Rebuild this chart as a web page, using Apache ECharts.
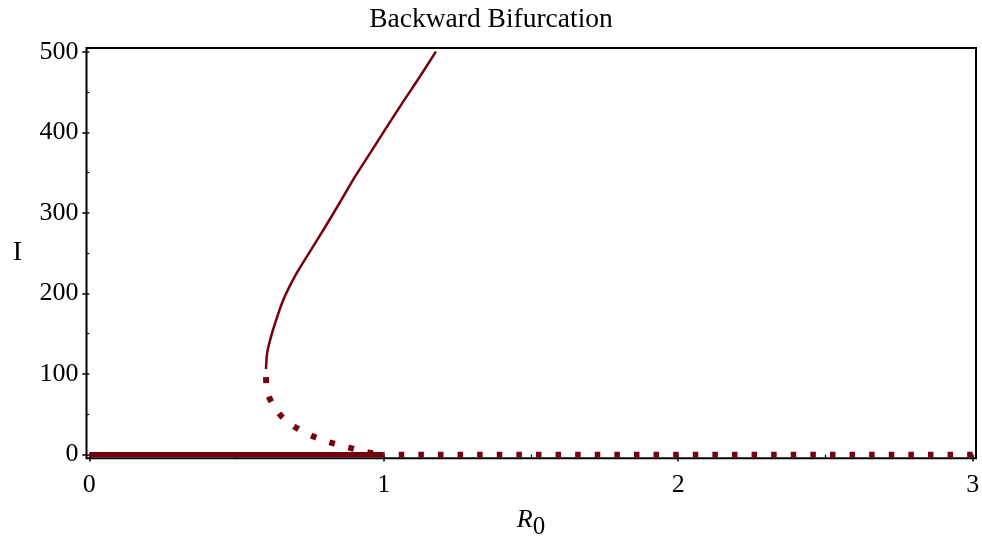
<!DOCTYPE html>
<html>
<head>
<meta charset="utf-8">
<script src="https://cdn.jsdelivr.net/npm/echarts@6/dist/echarts.min.js"></script>
<style>
html,body{margin:0;padding:0;background:#fff;}
#chart{width:982px;height:539px;}
</style>
</head>
<body>
<div id="chart"></div>
<script>
// Data (R0, I)
const stableUpper = [
  [0.600, 106], [0.604, 126], [0.614, 142], [0.631, 163], [0.659, 192],
  [0.698, 221], [0.746, 250], [0.802, 283], [0.856, 316], [0.906, 347],
  [0.957, 376], [1.011, 407], [1.066, 438], [1.119, 467], [1.177, 500]
];
const unstableLower = [
  [0.600, 96], [0.603, 82], [0.614, 68.5], [0.651, 48], [0.704, 33],
  [0.764, 22], [0.826, 14], [0.891, 7.7], [0.951, 2.2], [1.0, 0]
];
const stableDFE = [[0, 0], [1, 0]];
const unstableDFE = [[1, 0], [3, 0]];
const xTicks = [0, 1, 2, 3];
const yTicks = [0, 100, 200, 300, 400, 500];

const RED = '#78000E';
const FONT = "'Liberation Serif', 'Times New Roman', serif";

const chart = echarts.init(document.getElementById('chart'), null, {renderer: 'canvas'});
const option = {
  animation: false,
  backgroundColor: '#fff',
  title: {
    text: 'Backward Bifurcation',
    left: 'center',
    top: 6,
    padding: 0,
    textStyle: {fontFamily: FONT, fontSize: 27.5, fontWeight: 'normal', color: '#000'}
  },
  grid: [
    {left: 86.5, right: 6, top: 48, bottom: 80.7, show: true, borderColor: '#000', borderWidth: 2,
     backgroundColor: 'transparent', containLabel: false, outerBoundsMode: 'none'},
    {left: 89.3, right: 9.3, top: 51.7, bottom: 84.5, containLabel: false, outerBoundsMode: 'none'}
  ],
  xAxis: [
    {gridIndex: 0, type: 'value', show: false, min: 0, max: 1},
    {
      gridIndex: 1, type: 'value', min: xTicks[0], max: xTicks[xTicks.length - 1], interval: 1,
      offset: 3.8,
      axisLine: {show: false},
      axisTick: {show: true, length: 7, lineStyle: {color: '#000', width: 1.5}},
      minorTick: {show: true, splitNumber: 2, length: 3.5, lineStyle: {color: '#000', width: 1.2}},
      splitLine: {show: false},
      minorSplitLine: {show: false},
      axisLabel: {fontFamily: FONT, fontSize: 26, color: '#000', margin: 14},
      name: '{r|R}{s|0}',
      nameLocation: 'middle',
      nameGap: 49,
      nameTextStyle: {
        rich: {
          r: {fontFamily: FONT, fontStyle: 'italic', fontSize: 26, color: '#000', padding: [0, 0, 7, 0]},
          s: {fontFamily: FONT, fontSize: 25, color: '#000', padding: [7, 0, 0, 0]}
        }
      }
    }
  ],
  yAxis: [
    {gridIndex: 0, type: 'value', show: false, min: 0, max: 1},
    {
      gridIndex: 1, type: 'value', min: yTicks[0], max: yTicks[yTicks.length - 1], interval: 100,
      offset: 2.8,
      axisLine: {show: false},
      axisTick: {show: true, length: 7, lineStyle: {color: '#000', width: 1.5}},
      minorTick: {show: true, splitNumber: 2, length: 3.5, lineStyle: {color: '#000', width: 1.2}},
      splitLine: {show: false},
      minorSplitLine: {show: false},
      axisLabel: {fontFamily: FONT, fontSize: 26, color: '#000', margin: 8},
      name: 'I',
      nameLocation: 'middle',
      nameRotate: 0,
      nameGap: 64.5,
      nameTextStyle: {fontFamily: FONT, fontSize: 28, color: '#000'}
    }
  ],
  series: [
    {
      type: 'line', xAxisIndex: 1, yAxisIndex: 1, data: stableDFE, showSymbol: false,
      lineStyle: {color: RED, width: 5, cap: 'butt'}, clip: false
    },
    {
      type: 'line', xAxisIndex: 1, yAxisIndex: 1, data: unstableDFE, showSymbol: false,
      lineStyle: {color: RED, width: 5.5, type: [5.5, 14.1], dashOffset: 4.6, cap: 'butt'}, clip: false
    },
    {
      type: 'line', xAxisIndex: 1, yAxisIndex: 1, data: unstableLower, showSymbol: false, smooth: 0.3,
      lineStyle: {color: RED, width: 6, type: [6, 13.6], cap: 'butt'}, clip: false
    },
    {
      type: 'line', xAxisIndex: 1, yAxisIndex: 1, data: stableUpper, showSymbol: false,
      smooth: 0.3,
      lineStyle: {color: RED, width: 2.5}, clip: false
    }
  ]
};
chart.setOption(option);
</script>
</body>
</html>
